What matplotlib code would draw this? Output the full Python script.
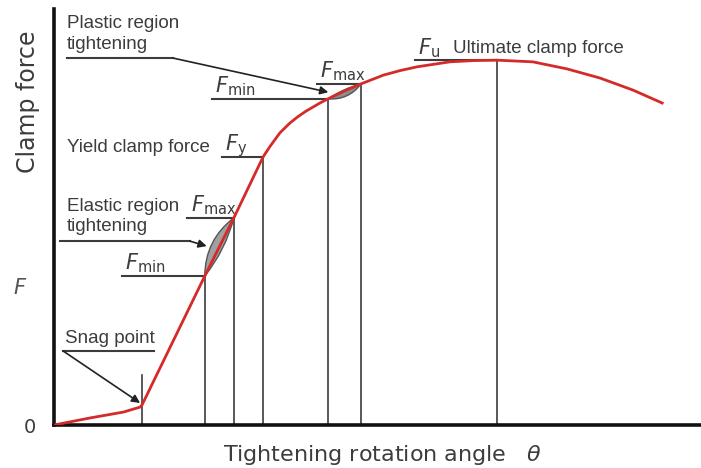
import matplotlib
matplotlib.use('Agg')
import matplotlib.pyplot as plt
from matplotlib.path import Path
from matplotlib.patches import PathPatch

plt.rcParams['mathtext.fontset'] = 'dejavusans'

# clamp force curve (angle, force), arbitrary units 0-100
theta = [0, 5.6, 10.7, 13.3, 13.6, 23.3, 27.8, 32.3, 33.4, 34.9, 36.4, 37.6,
         38.9, 40.0, 41.1, 42.35, 44.9, 47.45, 50.9, 53.5, 56.1, 61.2, 64.8,
         68.5, 74.0, 79.3, 84.4, 89.5, 94.0]
force = [0, 1.7, 3.1, 4.3, 4.8, 35.8, 49.8, 64.4, 67.0, 70.2, 72.5, 74.0,
         75.4, 76.4, 77.4, 78.4, 80.3, 82.0, 84.1, 85.2, 86.1, 87.3, 87.6,
         87.7, 87.3, 85.6, 83.4, 80.5, 77.4]

# snag point
snag_theta, snag_force, snag_tick = 13.6, 4.8, 12.0

# marked points: elastic min/max, yield, plastic min/max, ultimate
pt_theta = [23.3, 27.8, 32.3, 42.35, 47.45, 68.5]
pt_force = [35.8, 49.8, 64.4, 78.4, 82.0, 87.7]
pt_sub = ['min', 'max', 'y', 'min', 'max', 'u']
pt_lead = [10.5, 20.6, 26.0, 24.4, 40.6, 55.8]   # leader line start

RED = '#d42a2a'
INK = '#3c3c3c'
NARROW = ['Liberation Sans Narrow', 'Liberation Sans', 'DejaVu Sans']


def lens(ax, p0, p1, left, right, fc):
    """lens shape between two points, bulges given in pixels"""
    tr = ax.transData
    a = tr.transform(p0)
    b = tr.transform(p1)
    d = b - a
    n = (d[0] ** 2 + d[1] ** 2) ** 0.5
    nx, ny = -d[1] / n, d[0] / n
    m = (a + b) / 2
    c1 = (m[0] + nx * 2 * left, m[1] + ny * 2 * left)
    c2 = (m[0] - nx * 2 * right, m[1] - ny * 2 * right)
    inv = tr.inverted()
    verts = [p0, inv.transform(c1), p1, inv.transform(c2), p0, p0]
    codes = [Path.MOVETO, Path.CURVE3, Path.CURVE3, Path.CURVE3, Path.CURVE3,
             Path.CLOSEPOLY]
    ax.add_patch(PathPatch(Path(verts, codes), fc=fc, ec='#555555', lw=1,
                           zorder=3))


fig = plt.figure(figsize=(7.01, 4.68), dpi=100)
ax = fig.add_axes([54 / 701, 43 / 468, 647 / 701, 416 / 468])
ax.set_xlim(0, 100)
ax.set_ylim(0, 100)
for s in ['top', 'right']:
    ax.spines[s].set_visible(False)
for s in ['left', 'bottom']:
    ax.spines[s].set_linewidth(2.6)
    ax.spines[s].set_color('#111111')
ax.set_xticks([])
ax.set_yticks([])

# drop lines
ax.plot([snag_theta, snag_theta], [0, snag_tick], color=INK, lw=1.2)
for t, f in zip(pt_theta, pt_force):
    ax.plot([t, t], [0, f], color=INK, lw=1.2)

# leader lines and F labels
for t, f, s, l in zip(pt_theta, pt_force, pt_sub, pt_lead):
    ax.plot([l, t], [f, f], color=INK, lw=1.5)
    ax.text(l + 0.5, f + 1.5, r'$F_{\mathrm{%s}}$' % s, fontsize=15,
            color=INK, ha='left', va='baseline')

# tightening windows
lens(ax, (pt_theta[0], pt_force[0]), (pt_theta[1], pt_force[1]), 8, 3.5,
     '#a0a0a0')
lens(ax, (pt_theta[3], pt_force[3]), (pt_theta[4], pt_force[4]), 1.5, 5,
     '#8c8c8c')

ax.plot(theta, force, color=RED, lw=2, zorder=4, solid_joinstyle='round')

# annotations
arrow = dict(arrowstyle='-|>', color='#222222', lw=1.2, mutation_scale=12,
             shrinkA=0, shrinkB=0)
ax.plot([2.0, 18.4], [88.2, 88.2], color=INK, lw=1.5)
ax.annotate('', xy=(42.4, 80.0), xytext=(18.4, 88.2), arrowprops=arrow,
            zorder=5)
ax.text(2.0, 89.5, 'Plastic region\ntightening', fontsize=13.5,
        family=NARROW, color=INK, ha='left', va='bottom', linespacing=1.25)

ax.text(2.0, 66.8, 'Yield clamp force', fontsize=13.5, family=NARROW,
        color=INK, ha='left', va='center')

ax.plot([0.9, 21.0], [44.2, 44.2], color=INK, lw=1.5)
ax.annotate('', xy=(23.6, 43.0), xytext=(21.0, 44.2), arrowprops=arrow,
            zorder=5)
ax.text(2.0, 45.7, 'Elastic region\ntightening', fontsize=13.5,
        family=NARROW, color=INK, ha='left', va='bottom', linespacing=1.25)

ax.plot([1.4, 15.5], [17.8, 17.8], color=INK, lw=1.5)
ax.annotate('', xy=(snag_theta - 0.3, snag_force + 0.5), xytext=(1.4, 17.8),
            arrowprops=arrow, zorder=5)
ax.text(1.7, 18.8, 'Snag point', fontsize=13.5, family=NARROW, color=INK,
        ha='left', va='bottom')

ax.text(61.7, 89.4, 'Ultimate clamp force', fontsize=13.5, family=NARROW,
        color=INK, ha='left', va='baseline')

# axis texts
ax.text(-0.040, 0.776, 'Clamp force', transform=ax.transAxes, rotation=90,
        fontsize=17, color=INK, ha='center', va='center')
ax.text(-0.0526, 0.329, '$F$', transform=ax.transAxes, fontsize=15,
        color='#555555', ha='center', va='center')
ax.text(-0.037, -0.007, '0', transform=ax.transAxes, fontsize=14,
        color=INK, ha='center', va='center')
ax.text(0.507, -0.072, r'Tightening rotation angle   $\theta$',
        transform=ax.transAxes, fontsize=16, color=INK, ha='center',
        va='center')

fig.savefig('out.png', dpi=100)
